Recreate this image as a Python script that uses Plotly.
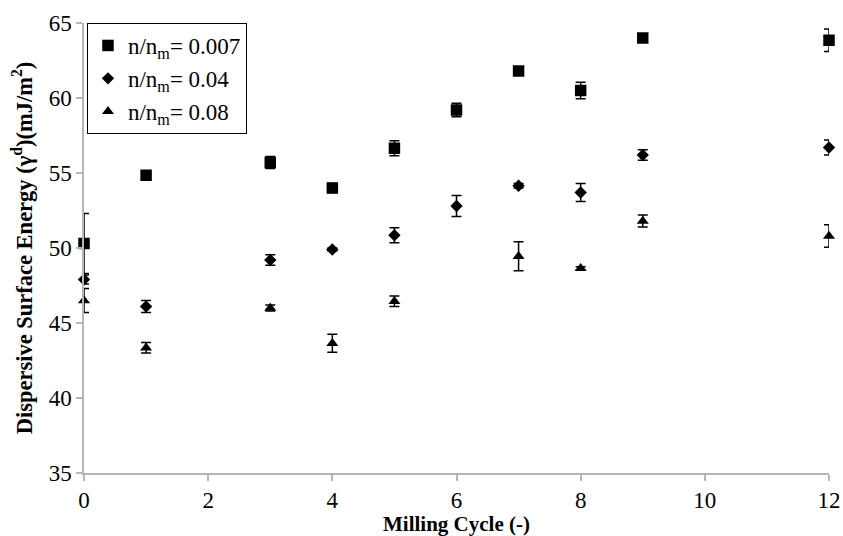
import plotly.graph_objects as go

# Data
cycles_sq = [0, 1, 3, 4, 5, 6, 7, 8, 9, 12]
energy_sq = [50.3, 54.85, 55.7, 54.0, 56.65, 59.2, 61.8, 60.5, 64.0, 63.85]
err_sq = [2.0, 0.15, 0.4, 0.3, 0.5, 0.45, 0.15, 0.55, 0.1, 0.75]

cycles_di = [0, 1, 3, 4, 5, 6, 7, 8, 9, 12]
energy_di = [47.9, 46.1, 49.2, 49.9, 50.85, 52.8, 54.15, 53.7, 56.2, 56.7]
err_di = [0.3, 0.4, 0.35, 0.1, 0.5, 0.7, 0.15, 0.6, 0.35, 0.5]

cycles_tr = [0, 1, 3, 4, 5, 7, 8, 9, 12]
energy_tr = [46.5, 43.35, 46.0, 43.65, 46.45, 49.45, 48.65, 51.8, 50.8]
err_tr = [0.8, 0.35, 0.2, 0.6, 0.35, 0.97, 0.1, 0.4, 0.75]

names = ["n/n<sub>m</sub>= 0.007", "n/n<sub>m</sub>= 0.04", "n/n<sub>m</sub>= 0.08"]

x_ticks = [0, 2, 4, 6, 8, 10, 12]
y_ticks = [35, 40, 45, 50, 55, 60, 65]

FONT = "Liberation Serif, Times New Roman, DejaVu Serif, serif"

fig = go.Figure()
series = [
    (cycles_sq, energy_sq, err_sq, "square", 11.5, names[0]),
    (cycles_di, energy_di, err_di, "diamond", 9.5, names[1]),
    (cycles_tr, energy_tr, err_tr, "triangle-up", 10.5, names[2]),
]
for xs, ys, es, sym, sz, nm in series:
    fig.add_trace(go.Scatter(
        x=xs, y=ys, mode="markers", name=nm, cliponaxis=False,
        marker=dict(symbol=sym, size=sz, color="black", line=dict(width=0)),
        error_y=dict(type="data", array=es, visible=True, color="black",
                     thickness=1.5, width=5),
    ))

axis_common = dict(
    showline=True, linecolor="#b5b5b5", linewidth=1.5,
    ticks="outside", tickcolor="#b5b5b5", ticklen=6, tickwidth=1.5,
    showgrid=False, zeroline=False, mirror=False, automargin=False,
    tickfont=dict(family=FONT, size=23, color="black"),
)

fig.update_layout(
    width=843, height=536,
    font=dict(family=FONT, size=23, color="black"),
    margin=dict(l=84, r=14, t=23, b=63),
    paper_bgcolor="white", plot_bgcolor="white",
    showlegend=True,
    legend=dict(
        x=0.004, y=1.0, xanchor="left", yanchor="top",
        bordercolor="black", borderwidth=1, bgcolor="white",
        font=dict(family=FONT, size=23, color="black"),
        itemwidth=30, tracegroupgap=0,
    ),
    xaxis=dict(range=[0, 12], tickvals=x_ticks,
               title=dict(text="<b>Milling Cycle (-)</b>", standoff=0,
                          font=dict(family=FONT, size=21, color="black")),
               **axis_common),
    yaxis=dict(range=[35, 65], tickvals=y_ticks,
               title=dict(text="<b>Dispersive Surface Energy (γ<sup>d</sup>)(mJ/m<sup>2</sup>)</b>",
                          standoff=10,
                          font=dict(family=FONT, size=22.5, color="black")),
               **axis_common),
)

fig.write_html("out.html")
